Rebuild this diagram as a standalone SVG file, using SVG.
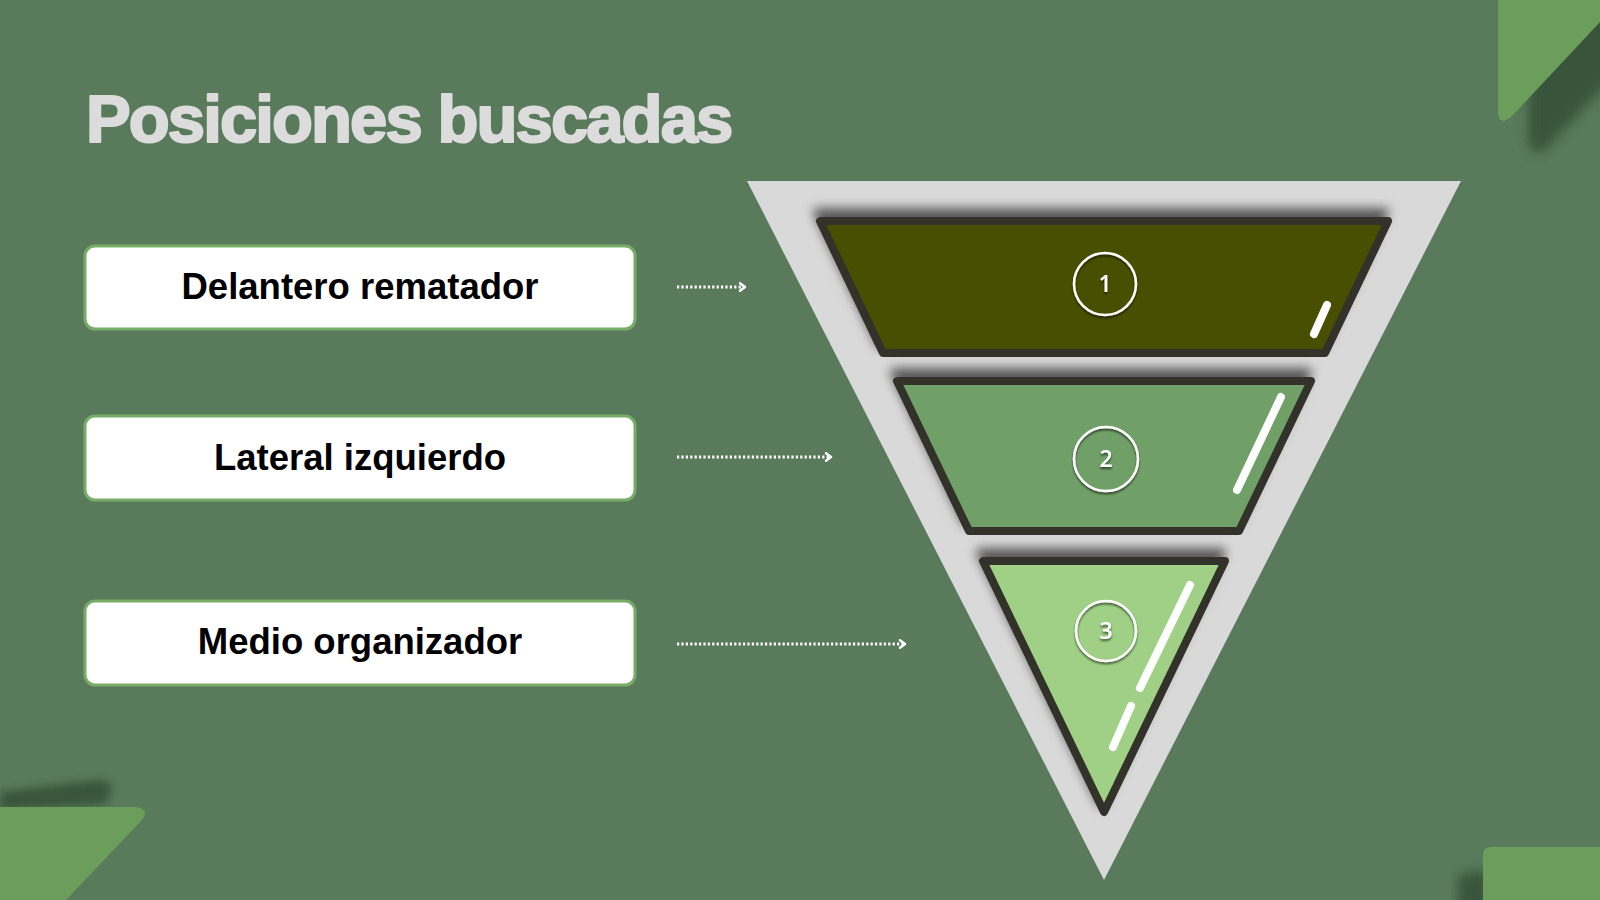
<svg xmlns="http://www.w3.org/2000/svg" width="1600" height="900" viewBox="0 0 1600 900">
  <defs>
    <filter id="blurShadow" x="-20%" y="-20%" width="140%" height="140%">
      <feGaussianBlur stdDeviation="6"/>
    </filter>
    <filter id="blurShadowSm" x="-20%" y="-50%" width="140%" height="200%">
      <feGaussianBlur stdDeviation="4"/>
    </filter>
    <filter id="bandShadow" x="-10%" y="-20%" width="120%" height="140%">
      <feDropShadow dx="-3" dy="-9" stdDeviation="5.5" flood-color="#000" flood-opacity="0.6"/>
    </filter>
    <filter id="smallShadow" x="-30%" y="-30%" width="160%" height="160%">
      <feDropShadow dx="0" dy="2" stdDeviation="1" flood-color="#000" flood-opacity="0.6"/>
    </filter>
    <marker id="chev" viewBox="0 0 10 10" refX="8" refY="5" markerWidth="10" markerHeight="10" markerUnits="userSpaceOnUse" orient="auto">
      <path d="M3,1.2 L8,5 L3,8.8" fill="none" stroke="#ffffff" stroke-width="2.4" stroke-linecap="round" stroke-linejoin="round"/>
    </marker>
  </defs>
  <style>
    .title { font-family: "Liberation Sans", Arial, sans-serif; font-weight: 700; font-size: 67px; fill: #dcdcdc; letter-spacing: -1.9px; stroke: #dcdcdc; stroke-width: 2.2px; stroke-linejoin: round; }
    .box { fill: #ffffff; stroke: #78ad68; stroke-width: 3; }
    .label { font-family: "Liberation Sans", Arial, sans-serif; font-weight: 700; font-size: 36.5px; fill: #000000; text-anchor: middle; }
    .conn { fill: none; stroke: #ffffff; stroke-width: 3; stroke-dasharray: 2.2 2.2; }
    .band { stroke: #30332a; stroke-width: 8; stroke-linejoin: round; }
    .ring { fill: none; stroke: #ffffff; stroke-width: 2.5; }
    .num { font-family: "Open Sans", "Liberation Sans", sans-serif; font-weight: 600; font-size: 23px; fill: #ffffff; text-anchor: middle; }
    .shine { stroke: #ffffff; stroke-width: 8; stroke-linecap: round; }
    .deco { fill: #6b9e5b; }
    .decoShadow { fill: #2f4a30; opacity: 0.75; }
  </style>

  <!-- background -->
  <rect x="0" y="0" width="1600" height="900" fill="#597a5b"/>

  <!-- decorations -->
  <g id="deco-top-right">
    <path class="decoShadow" filter="url(#blurShadow)" d="M1528,40 L1600,-30 L1630,60 L1545,150 Q1530,158 1528,140 Z"/>
    <path class="deco" d="M1498,0 L1600,0 L1600,22 L1512,116 Q1498,128 1498,110 Z"/>
  </g>
  <g id="deco-bottom-left">
    <path class="decoShadow" filter="url(#blurShadowSm)" d="M0,792 L98,780 Q113,779 111,792 L106,804 L0,810 Z"/>
    <path class="deco" d="M0,807 L136,807 Q150,809 142,820 L66,900 L0,900 Z"/>
  </g>
  <g id="deco-bottom-right">
    <path class="decoShadow" filter="url(#blurShadow)" d="M1458,875 L1490,870 L1490,910 L1458,910 Z"/>
    <path class="deco" d="M1483,855 Q1483,847 1491,847 L1600,847 L1600,900 L1483,900 Z"/>
  </g>

  <!-- title -->
  <text class="title" x="86" y="142">Posiciones buscadas</text>

  <!-- funnel backdrop -->
  <g id="funnel-back">
    <polygon points="747,181 1461,181 1104,880" fill="#d9d9d9"/>
  </g>

  <g id="band-1">
    <polygon class="band" filter="url(#bandShadow)" points="820,221 1388,221 1325,353 883,353" fill="#4a5000"/>
    <line class="shine" x1="1327" y1="305" x2="1314" y2="334"/>
    <g filter="url(#smallShadow)">
      <circle class="ring" cx="1105" cy="284" r="31"/>
      <text class="num" x="1105" y="292">1</text>
    </g>
  </g>

  <g id="band-2">
    <polygon class="band" filter="url(#bandShadow)" points="897,381 1311,381 1239,531 969,531" fill="#6fa067"/>
    <line class="shine" x1="1281" y1="397" x2="1237" y2="490"/>
    <g filter="url(#smallShadow)">
      <circle class="ring" cx="1106" cy="459" r="32"/>
      <text class="num" x="1106" y="467">2</text>
    </g>
  </g>

  <g id="band-3">
    <polygon class="band" filter="url(#bandShadow)" points="983,561 1225,561 1104,812" fill="#9fd086"/>
    <line class="shine" x1="1190" y1="585" x2="1140" y2="688"/>
    <line class="shine" x1="1131" y1="706" x2="1113" y2="747"/>
    <g filter="url(#smallShadow)">
      <circle class="ring" cx="1106" cy="631" r="30"/>
      <text class="num" x="1106" y="639">3</text>
    </g>
  </g>

  <!-- label boxes -->
  <g id="node-1">
    <rect class="box" x="85" y="246" width="550" height="83" rx="10"/>
    <text class="label" x="360" y="299">Delantero rematador</text>
  </g>
  <g id="node-2">
    <rect class="box" x="85" y="416" width="550" height="84" rx="10"/>
    <text class="label" x="360" y="470">Lateral izquierdo</text>
  </g>
  <g id="node-3">
    <rect class="box" x="85" y="601" width="550" height="84" rx="10"/>
    <text class="label" x="360" y="654">Medio organizador</text>
  </g>

  <!-- connectors -->
  <g id="connectors">
    <line class="conn" x1="677" y1="287" x2="745" y2="287" marker-end="url(#chev)"/>
    <line class="conn" x1="677" y1="457" x2="831" y2="457" marker-end="url(#chev)"/>
    <line class="conn" x1="677" y1="644" x2="905" y2="644" marker-end="url(#chev)"/>
  </g>
</svg>
